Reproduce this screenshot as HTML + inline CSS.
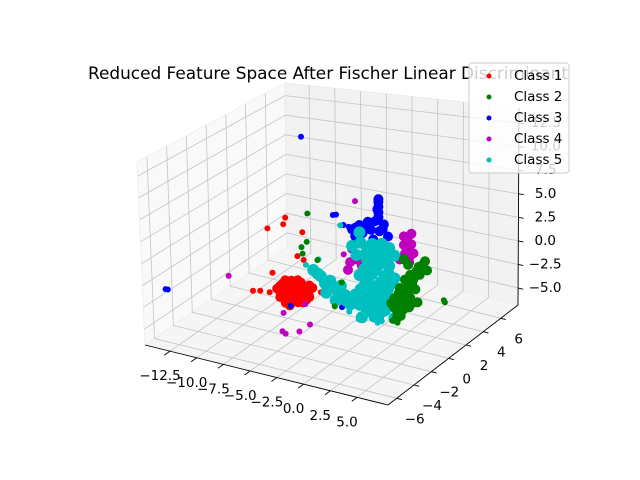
<!DOCTYPE html>
<html><head><meta charset="utf-8"><style>
html,body{margin:0;padding:0;background:#fff;}
svg{display:block;font-family:"DejaVu Sans","Liberation Sans",sans-serif;}
</style></head><body>
<svg id="chart" width="640" height="480" viewBox="0 0 640 480">
<g id="panes"></g>
<g id="grid"></g>
<g id="axes"></g>
<g id="points"></g>
<text x="328" y="79" text-anchor="middle" font-size="16.9" fill="#000">Reduced Feature Space After Fischer Linear Discriminant</text>
<g id="legend"></g>
</svg>
<script>
// axis ranges & ticks
const xTicks = [-12.5,-10.0,-7.5,-5.0,-2.5,0.0,2.5,5.0];
const yTicks = [-6,-4,-2,0,2,4,6];
const zTicks = [-5.0,-2.5,0.0,2.5,5.0,7.5,10.0,12.5];
const xTickLabels = ["\u221212.5","\u221210.0","\u22127.5","\u22125.0","\u22122.5","0.0","2.5","5.0"];
const yTickLabels = ["\u22126","\u22124","\u22122","0","2","4","6"];
const zTickLabels = ["\u22125.0","\u22122.5","0.0","2.5","5.0","7.5","10.0","12.5"];
const classNames = ["Class 1","Class 2","Class 3","Class 4","Class 5"];

// Class 1 (red)
const class1Core = [[-8.2,0,-3.3],[-8.2,0,-4.0],[-8.2,0,-4.6],[-7.7,0,-2.5],[-7.7,0,-3.2],[-7.7,0,-3.8],[-7.7,0,-4.4],[-7.7,0,-5.1],
 [-7.1,0,-2.4],[-7.1,0,-3.0],[-7.1,0,-3.6],[-7.1,0,-4.3],[-7.1,0,-4.9],[-6.5,0,-2.2],[-6.5,0,-2.8],[-6.5,0,-3.5],[-6.5,0,-4.1],[-6.5,0,-4.7],
 [-6.0,0,-2.7],[-6.0,0,-3.3],[-6.0,0,-3.9],[-6.0,0,-4.6],[-5.4,0,-2.5],[-5.4,0,-3.1],[-5.4,0,-3.8],
 [-7.9,0,-2.9],[-7.9,0,-3.5],[-7.9,0,-4.2],[-7.4,0,-2.7],[-7.4,0,-3.4],[-7.4,0,-4.0],[-7.4,0,-4.7],[-6.8,0,-2.5],[-6.8,0,-3.2],
 [-6.8,0,-3.9],[-6.8,0,-4.5],[-6.2,0,-2.4],[-6.2,0,-3.0],[-6.2,0,-3.7],[-6.2,0,-4.3],[-5.7,0,-2.9],[-5.7,0,-3.5],[-5.7,0,-4.2],[-8.5,0,-3.7],[-5.1,0,-2.7],[-7.3,0,-5.3]];
const class1Sparse = [[-7.6,0,4.6],[-7.8,0,3.8],[-9.3,0,3.0],[-6.0,0,3.3],[-6.5,0,0.5],[-5.9,0,0.2],[-10.8,0,-4.6],[-10.1,0,-4.4],[-4.3,0,-3.0],[-8.9,0,-2.0],[-9.2,0,-4.3]];
// Class 2 (green)
const class2Core = [[2.7,0,-2.9],[3.4,0,-3.1],[4.1,0,-2.5],[2.7,0,-1.9],[3.5,0,-1.7],[4.2,0,-1.5],[3.2,0,-0.7],[3.9,0,-0.5],[4.7,0,-0.5],
 [3.7,0,0.3],[4.5,0,0.5],[5.1,0,1.1],[5.0,0,1.9],[5.6,0,2.6],[5.8,0,1.7],[2.9,0,-4.0],[2.4,0,-2.5],[4.9,0,-1.8],[3.6,0,2.4],[4.0,0,1.9],[3.3,0,-3.6],
 [3.0,0,-2.4],[3.8,0,-2.2],[3.1,0,-1.3],[3.9,0,-1.1],[4.4,0,-0.1],[4.2,0,0.9],[4.8,0,1.4],[5.3,0,2.1],[3.6,0,-2.8],[4.4,0,-2.0],[3.0,0,-3.4]];
const class2Sparse = [[7.4,0,-1.0],[7.5,0,-1.2],[2.5,0,-4.3],[3.0,0,-4.4],[-3.0,0,-4.2],[-6.1,0,1.6],[-6.0,0,0.9],[-5.6,0,2.3],[-5.5,0,5.5],[-4.6,0,0.5],[-2.3,0,-1.4]];
// Class 3 (blue)
const class3Core = [[1.2,0,8.0],[1.2,0,7.5],[1.2,0,6.9],[1.2,0,6.4],[-1.3,0,4.6],[-0.6,0,5.2],[0.2,0,5.7],[0.9,0,5.9],[1.7,0,5.7],
 [-1.0,0,3.9],[-0.3,0,4.4],[0.5,0,4.9],[1.3,0,4.9],[2.1,0,4.5],[0.7,0,3.9],[1.2,0,8.3],[1.1,0,7.2],[-0.9,0,4.9],[0.0,0,5.2],[1.6,0,5.2]];
const class3Sparse = [[-3.1,0,5.8],[-2.8,0,5.9],[-6.0,0,14.0],[-13.6,-6,-0.8],[-13.4,-6,-0.8],[-2.1,0,-3.8],[-2.3,0,-4.1],[-7.2,0,-5.3],[-2.1,0,4.9],[-1.6,0,4.8]];
// Class 4 (magenta)
const class4Core = [[3.6,0,4.8],[4.3,0,5.2],[3.6,0,3.9],[4.3,0,4.1],[3.7,0,3.0],[4.5,0,3.2],[4.1,0,2.2],[3.2,0,2.3],[3.9,0,4.5],[4.0,0,3.5],[4.1,0,2.7],
 [-1.3,0,2.5],[-0.7,0,1.8],[-1.5,0,1.0],[-0.4,0,0.9],[-1.7,0,0.1],[-0.6,0,-0.2],[-1.0,0,1.4]];
const class4Sparse = [[-1.0,0,7.7],[-13.1,0,-3.5],[-4.5,-4,-4.5],[-4.2,-4,-4.7],[-2.9,-4,-4.1],[-1.9,-4,-3.1],[-7.9,0,-6.3],[-5.8,0,-4.7],[-2.1,0,1.7]];
// Class 5 (cyan)
const class5Core = [[0.6,0,3.4],[1.5,0,3.6],[2.2,0,3.3],[-0.1,0,2.1],[0.8,0,2.4],[1.8,0,2.3],[2.7,0,2.6],[0.4,0,1.2],[1.3,0,1.4],[2.2,0,1.4],
 [-0.6,0,-0.2],[0.6,0,0.2],[1.8,0,0.2],[2.7,0,0.2],[-0.1,0,-1.1],[0.8,0,-1.1],[2.1,0,-1.0],[-1.0,0,-2.4],[0.2,0,-2.4],[1.3,0,-2.3],[2.2,0,-2.0],
 [-0.6,0,-3.4],[0.6,0,-3.4],[1.8,0,-3.4],[-0.4,0,-4.7],[0.8,0,-4.3],[2.7,0,-4.0],[-2.0,0,-2.7],[-2.4,0,-1.8],[-2.9,0,-3.5],[-1.5,0,-3.6],
 [-3.4,0,-1.5],[-4.3,0,-1.2],[-5.0,0,-0.7],[-3.8,0,-2.9],[-0.6,0,4.4],[-1.3,0,2.8],
 [1.0,0,2.9],[2.0,0,2.8],[0.1,0,1.6],[0.9,0,1.8],[1.7,0,1.8],[-0.2,0,0.5],[1.0,0,0.7],[2.1,0,0.6],[0.2,0,-0.5],[1.4,0,-0.5],[2.4,0,-0.4],
 [-0.5,0,-1.7],[0.6,0,-1.7],[1.7,0,-1.6],[-0.2,0,-2.9],[1.0,0,-2.9],[2.0,0,-2.8],[0.1,0,-3.9],[1.3,0,-3.9],[-1.2,0,-3.0],[-2.6,0,-2.7],
 [-3.0,0,-2.2],[-3.9,0,-1.9],[-4.6,0,-1.0],[-1.9,0,-3.3],[-0.5,0,3.3],[0.2,0,2.8],[-0.9,0,1.9]];
const class5Sparse = [[-2.4,0,4.8],[-4.5,0,0.6],[-5.7,0,-0.3],[1.1,0,-4.9],[1.5,0,-4.6],[-1.6,0,-4.4],[-0.7,0,-5.0]];

const XMIN=-14.84, XMAX=7.9, YMIN=-7, YMAX=8, ZMIN=-6.8, ZMAX=14.1;
const CORN = {z0:{a:[145,345],b:[388,405],c:[518,305],d:[287,247]}, z1:{a:[137,162],b:[390,192],c:[519,108],d:[285,83]}};
function lerp(p,q,t){return [p[0]+(q[0]-p[0])*t, p[1]+(q[1]-p[1])*t];}
function P(x,y,z){
  const fx=(x-XMIN)/(XMAX-XMIN), fy=(y-YMIN)/(YMAX-YMIN), fz=(z-ZMIN)/(ZMAX-ZMIN);
  function layer(L){ return lerp(lerp(L.a,L.b,fx), lerp(L.d,L.c,fx), fy); }
  return lerp(layer(CORN.z0), layer(CORN.z1), fz);
}
const NS="http://www.w3.org/2000/svg";
function mk(tag, attrs, parent){ const e=document.createElementNS(NS,tag); for(const k in attrs) e.setAttribute(k,attrs[k]); parent.appendChild(e); return e; }
function poly(pts){ return pts.map(p=>p[0].toFixed(1)+","+p[1].toFixed(1)).join(" "); }

const panes=document.getElementById('panes');
let e;
e=mk('polygon',{points:poly([P(XMIN,YMIN,ZMIN),P(XMIN,YMAX,ZMIN),P(XMIN,YMAX,ZMAX),P(XMIN,YMIN,ZMAX)]),fill:'#f9f9f9',stroke:'#f0f0f0'},panes);


e=mk('polygon',{points:poly([P(XMIN,YMAX,ZMIN),P(XMAX,YMAX,ZMIN),P(XMAX,YMAX,ZMAX),P(XMIN,YMAX,ZMAX)]),fill:'#f2f2f2',stroke:'#ebebeb'},panes);


e=mk('polygon',{points:poly([P(XMIN,YMIN,ZMIN),P(XMAX,YMIN,ZMIN),P(XMAX,YMAX,ZMIN),P(XMIN,YMAX,ZMIN)]),fill:'#f5f5f5',stroke:'#eeeeee'},panes);



const grid=document.getElementById('grid');
function gl(pts,name){ const l=mk('polyline',{points:poly(pts),fill:'none',stroke:'#c4c4c4','stroke-width':0.8},grid);
  
   }
xTicks.forEach(x=>gl([P(x,YMIN,ZMIN),P(x,YMAX,ZMIN),P(x,YMAX,ZMAX)],'x-grid-line'));
yTicks.forEach(y=>gl([P(XMAX,y,ZMIN),P(XMIN,y,ZMIN),P(XMIN,y,ZMAX)],'y-grid-line'));
zTicks.forEach(z=>gl([P(XMIN,YMIN,z),P(XMIN,YMAX,z),P(XMAX,YMAX,z)],'z-grid-line'));

const axes=document.getElementById('axes');
function line(p,q,name,w){ const l=mk('line',{x1:p[0],y1:p[1],x2:q[0],y2:q[1],stroke:'#000','stroke-width':w},axes);
  
   }
function label(p,txt,name,anchor){ const t=mk('text',{x:p[0].toFixed(1),y:p[1].toFixed(1),'font-size':13.5,'text-anchor':anchor,'dominant-baseline':'central',fill:'#000'},axes);
  t.textContent=txt;
  
   }
line(P(XMIN,YMIN,ZMIN),P(XMAX,YMIN,ZMIN),'x-axis-line',0.9);
line(P(XMAX,YMIN,ZMIN),P(XMAX,YMAX,ZMIN),'y-axis-line',0.9);
line(P(XMAX,YMAX,ZMIN),P(XMAX,YMAX,ZMAX),'z-axis-line',0.9);
xTicks.forEach((x,i)=>{ const p=P(x,YMIN,ZMIN), q=P(x,YMIN-0.6,ZMIN); line(p,q,'x-tick',0.9);
  label([p[0]-10,p[1]+25],xTickLabels[i],'x-tick-label','middle'); });
yTicks.forEach((y,i)=>{ const p=P(XMAX,y,ZMIN), q=P(XMAX+0.5,y,ZMIN); line(p,q,'y-tick',0.9);
  label([p[0]+18,p[1]+21],yTickLabels[i],'y-tick-label','middle'); });
zTicks.forEach((z,i)=>{ const p=P(XMAX,YMAX,z), q=P(XMAX+0.5,YMAX,z); line(p,q,'z-tick',0.9);
  label([p[0]+27,p[1]],zTickLabels[i],'z-tick-label','middle'); });

const pts=document.getElementById('points');
function draw(arr,color,r,name){ arr.forEach(d=>{ const p=P(d[0],d[1],d[2]);
  const c=mk('circle',{cx:p[0].toFixed(1),cy:p[1].toFixed(1),r:r,fill:color},pts);
  
   }); }
draw(class1Core,'#ff0000',4.8,'class-1-point'); draw(class1Sparse,'#ff0000',3,'class-1-point');
draw(class3Core,'#0000ff',5,'class-3-point'); draw(class3Sparse,'#0000ff',3,'class-3-point');
draw(class4Core,'#bf00bf',5,'class-4-point'); draw(class4Sparse,'#bf00bf',3,'class-4-point');
draw(class5Core,'#00bfbf',6,'class-5-point'); draw(class5Sparse,'#00bfbf',3,'class-5-point');
draw(class2Core,'#008000',5,'class-2-point'); draw(class2Sparse,'#008000',3,'class-2-point');

const lg=document.getElementById('legend');
e=mk('rect',{x:469,y:63,width:100,height:110,rx:3,fill:'#fff','fill-opacity':0.8,stroke:'#cccccc'},lg);


const legendColors=['#ff0000','#008000','#0000ff','#bf00bf','#00bfbf'];
classNames.forEach((n,i)=>{ const y=76+i*21;
  const c=mk('circle',{cx:489,cy:y,r:2.5,fill:legendColors[i]},lg);
  
  
  const t=mk('text',{x:514,y:y,'font-size':13.5,'dominant-baseline':'central',fill:'#000'},lg);
  t.textContent=n;
  
   });
</script>
</body></html>
